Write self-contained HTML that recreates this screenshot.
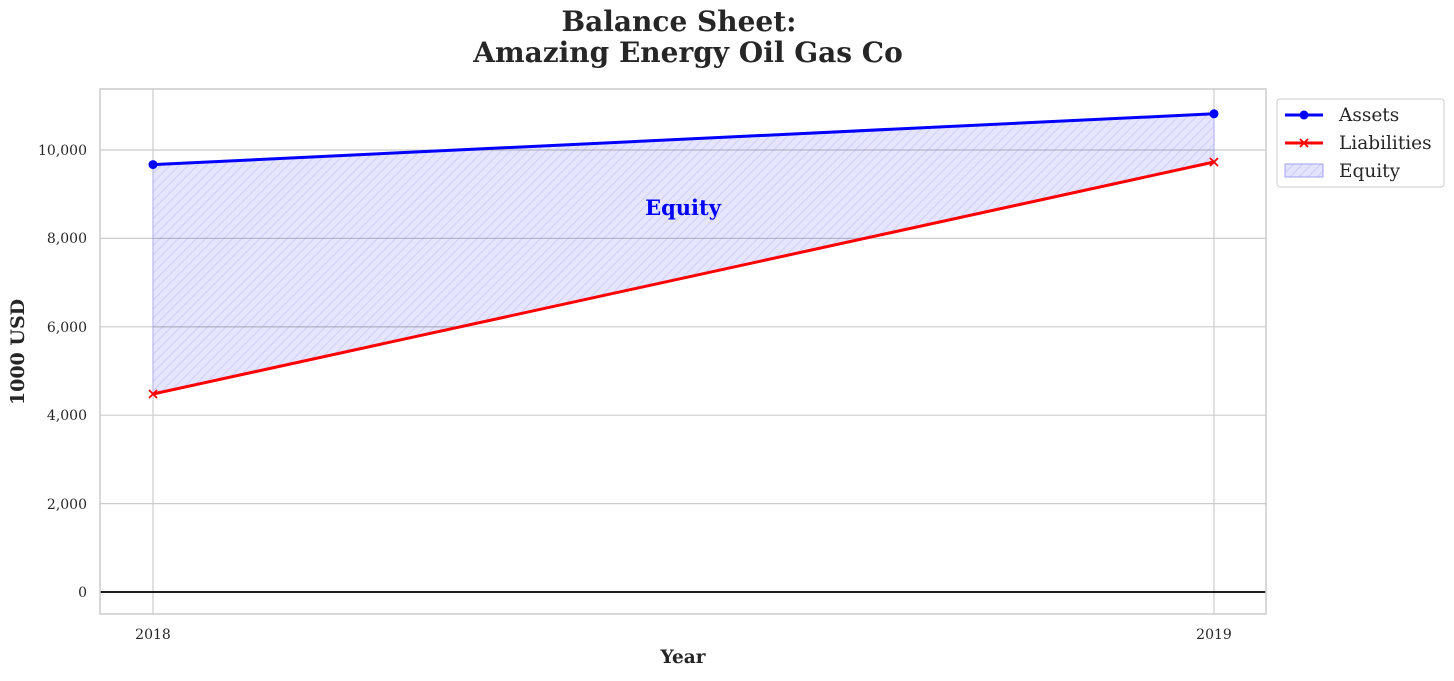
<!DOCTYPE html>
<html><head><meta charset="utf-8"><style>
body{margin:0;background:#fff;}
svg text{font-family:"DejaVu Serif","Liberation Serif",serif;fill:#262626;}
</style></head><body>
<svg width="1454" height="676" xmlns="http://www.w3.org/2000/svg">
<defs>
<pattern id="h" width="6.4" height="6.4" patternUnits="userSpaceOnUse" patternTransform="rotate(45)">
<rect width="6.4" height="6.4" fill="#e3e3ff"/>
<line x1="0" y1="0" x2="0" y2="6.4" stroke="#c4c4f4" stroke-width="1.6"/>
</pattern>
<clipPath id="c"><polygon points="153,164.6 1214,113.8 1214,162 153,394"/></clipPath>
</defs>
<text x="679" y="31" font-size="28" font-weight="bold" text-anchor="middle">Balance Sheet:</text>
<text x="688" y="62" font-size="28" font-weight="bold" text-anchor="middle">Amazing Energy Oil Gas Co</text>
<g stroke="#cccccc" stroke-width="1.2">
<line x1="100" x2="1266" y1="503.6" y2="503.6"/>
<line x1="100" x2="1266" y1="415.2" y2="415.2"/>
<line x1="100" x2="1266" y1="326.8" y2="326.8"/>
<line x1="100" x2="1266" y1="238.4" y2="238.4"/>
<line x1="100" x2="1266" y1="150" y2="150"/>
<line x1="153" x2="153" y1="89" y2="614"/>
<line x1="1214" x2="1214" y1="89" y2="614"/>
</g>
<polygon points="153,164.6 1214,113.8 1214,162 153,394" fill="url(#h)" stroke="#b0b0f0" stroke-width="1" opacity="0.9"/>
<g stroke="#777" stroke-opacity="0.4" stroke-width="1.3" clip-path="url(#c)">
<line x1="153" x2="1214" y1="150" y2="150"/>
<line x1="153" x2="1214" y1="238.4" y2="238.4"/>
<line x1="153" x2="1214" y1="326.8" y2="326.8"/>
</g>
<line x1="100" x2="1266" y1="592" y2="592" stroke="#000" stroke-width="1.8"/>
<rect x="100" y="89" width="1166" height="525" fill="none" stroke="#cccccc" stroke-width="1.5"/>
<polyline points="153,164.6 1214,113.8" stroke="#0000ff" stroke-width="3" fill="none"/>
<circle cx="153" cy="164.6" r="4.5" fill="#0000ff"/><circle cx="1214" cy="113.8" r="4.5" fill="#0000ff"/>
<polyline points="153,394 1214,162" stroke="#ff0000" stroke-width="3" fill="none"/>
<g stroke="#ff0000" stroke-width="1.8">
<path d="M149,390 l8,8 M157,390 l-8,8"/><path d="M1210,158 l8,8 M1218,158 l-8,8"/>
</g>
<text x="683" y="215" font-size="21" font-weight="bold" text-anchor="middle" style="fill:#0000ff">Equity</text>
<g font-size="14" text-anchor="end">
<text x="87" y="597">0</text><text x="87" y="509">2,000</text><text x="87" y="420">4,000</text>
<text x="87" y="332">6,000</text><text x="87" y="243">8,000</text><text x="87" y="155">10,000</text>
</g>
<text x="153" y="639" font-size="14" text-anchor="middle">2018</text>
<text x="1214" y="639" font-size="14" text-anchor="middle">2019</text>
<text x="683" y="663" font-size="18.5" font-weight="bold" text-anchor="middle">Year</text>
<text transform="translate(24,352) rotate(-90)" font-size="19" font-weight="bold" text-anchor="middle">1000 USD</text>
<rect x="1277" y="99" width="167" height="88" rx="3" fill="#fff" stroke="#cccccc"/>
<line x1="1285" x2="1323" y1="115" y2="115" stroke="#0000ff" stroke-width="3"/><circle cx="1304" cy="115" r="4.5" fill="#0000ff"/>
<text x="1339" y="121" font-size="18.5">Assets</text>
<line x1="1285" x2="1323" y1="143" y2="143" stroke="#ff0000" stroke-width="3"/>
<path d="M1300,139 l8,8 M1308,139 l-8,8" stroke="#ff0000" stroke-width="1.8"/>
<text x="1339" y="149" font-size="18.5">Liabilities</text>
<rect x="1285" y="164" width="38" height="13" fill="url(#h)" stroke="#a0a0f0"/>
<text x="1339" y="177" font-size="18.5">Equity</text>
</svg>
</body></html>
